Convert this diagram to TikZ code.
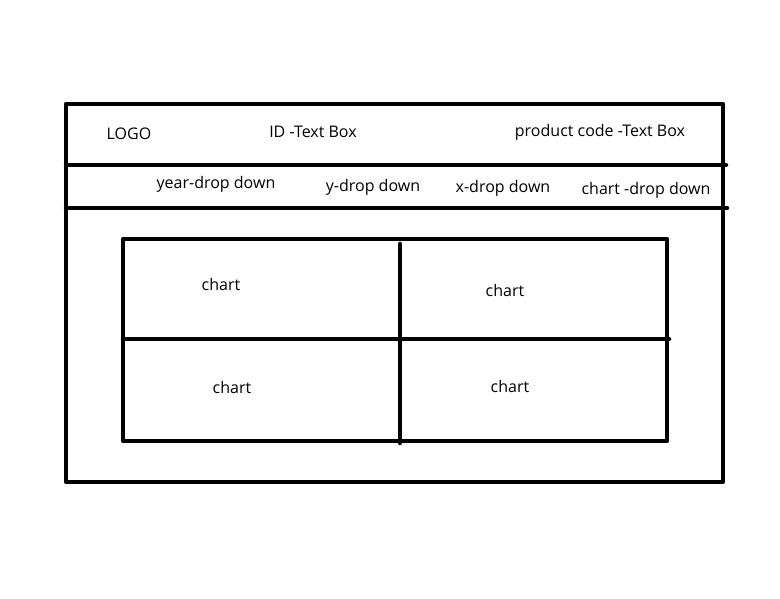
\documentclass[tikz,border=0pt]{standalone}
\usepackage{fontspec}
\setmainfont{Open Sans}
\begin{document}
\begin{tikzpicture}[x=1pt,y=-1pt,
  frame/.style={line width=4.5pt,line cap=round,line join=round},
  lbl/.style={font=\fontsize{16}{18}\selectfont,inner sep=0pt}]
\useasboundingbox (0,0) rectangle (780,598);
% outer frame
\draw[frame] (66,104) rectangle (723,482);
\draw[frame] (66,165) -- (726,165);
\draw[frame] (66,208) -- (727,208);
% chart grid
\draw[frame] (123,239) rectangle (667,441);
\draw[frame] (400,244) -- (400,443);
\draw[frame] (123,339) -- (669,339);
% labels
\node[lbl] (logo) at (129,134) {LOGO};
\node[lbl] (id) at (313,132) {ID -Text Box};
\node[lbl] (pc) at (600,132) {product code -Text Box};
\node[lbl] (year) at (216,184) {year-drop down};
\node[lbl] (ydd) at (373,187) {y-drop down};
\node[lbl] (xdd) at (503,188) {x-drop down};
\node[lbl] (cdd) at (646,190) {chart -drop down};
\node[lbl] (c1) at (221,284) {chart};
\node[lbl] (c2) at (505,290) {chart};
\node[lbl] (c3) at (232,387) {chart};
\node[lbl] (c4) at (510,386) {chart};
\end{tikzpicture}
\end{document}
